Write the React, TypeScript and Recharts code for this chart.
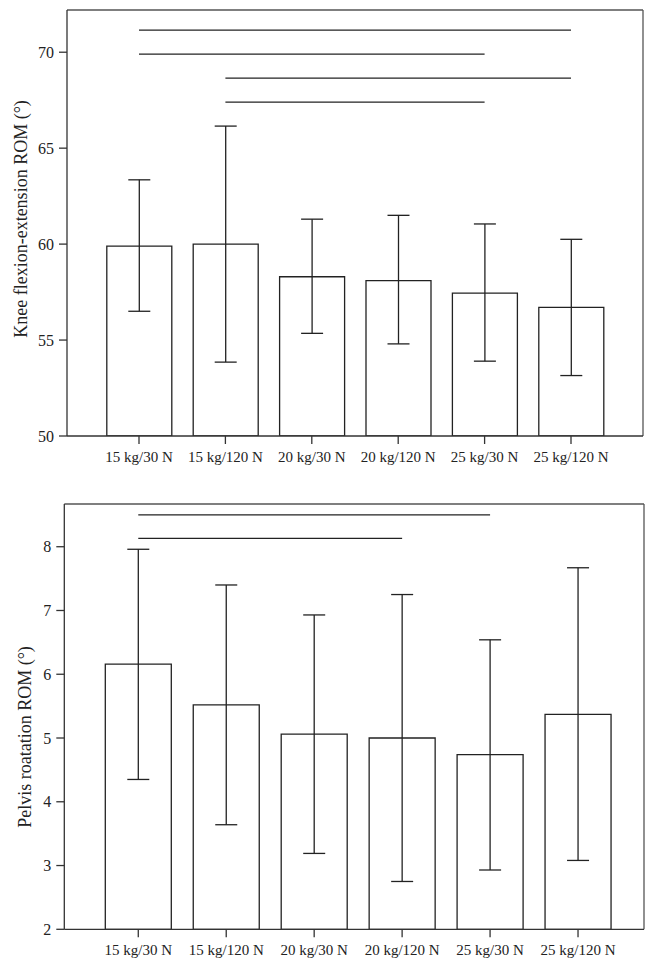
import { BarChart, Bar, XAxis, YAxis, ErrorBar, ReferenceLine, Label, CartesianGrid } from "recharts";

const categories = ["15 kg/30 N", "15 kg/120 N", "20 kg/30 N", "20 kg/120 N", "25 kg/30 N", "25 kg/120 N"];

// knee flexion-extension ROM (deg)
const kneeMean = [59.9, 60.0, 58.3, 58.1, 57.45, 56.7];
const kneeUpper = [63.35, 66.15, 61.3, 61.5, 61.05, 60.25];
const kneeLower = [56.5, 53.85, 55.35, 54.8, 53.9, 53.15];
const kneeTicks = [50, 55, 60, 65, 70];
// significance brackets: [from category, to category, height]
const kneeBrackets: [number, number, number][] = [
  [0, 5, 71.15],
  [0, 4, 69.9],
  [1, 5, 68.65],
  [1, 4, 67.4],
];

// pelvis rotation ROM (deg)
const pelvisMean = [6.16, 5.52, 5.06, 5.0, 4.74, 5.37];
const pelvisUpper = [7.96, 7.4, 6.93, 7.25, 6.54, 7.67];
const pelvisLower = [4.35, 3.64, 3.19, 2.75, 2.93, 3.08];
const pelvisTicks = [2, 3, 4, 5, 6, 7, 8];
const pelvisBrackets: [number, number, number][] = [
  [0, 4, 8.5],
  [0, 3, 8.13],
];

const FONT = "'Liberation Serif', 'Times New Roman', serif";
const INK = "#222";
const LINE = "#333";

function buildRows(mean: number[], upper: number[], lower: number[]) {
  return categories.map((name, i) => ({
    name,
    mean: mean[i],
    err: [mean[i] - lower[i], upper[i] - mean[i]],
  }));
}

function axisTitle(text: string, cx: number, cy: number) {
  return () => (
    <text
      x={cx}
      y={cy}
      transform={`rotate(-90, ${cx}, ${cy})`}
      textAnchor="middle"
      dominantBaseline="central"
      fontFamily={FONT}
      fontSize={18}
      fill={INK}
    >
      {text}
    </text>
  );
}

interface PanelProps {
  top: number;
  height: number;
  margin: { top: number; right: number; bottom: number; left: number };
  rows: { name: string; mean: number; err: number[] }[];
  domain: [number, number];
  ticks: number[];
  brackets: [number, number, number][];
  padding: { left: number; right: number };
  barSize: number;
  title: string;
  titleX: number;
  titleY: number;
}

function Panel(p: PanelProps) {
  return (
    <div style={{ position: "absolute", left: 0, top: p.top }}>
      <BarChart width={655} height={p.height} data={p.rows} margin={p.margin}>
        {/* top and right frame lines */}
        <CartesianGrid
          stroke="#555"
          strokeWidth={1.3}
          horizontalCoordinatesGenerator={({ offset }: any) => [offset.top]}
          verticalCoordinatesGenerator={({ offset }: any) => [offset.left + offset.width]}
        />
        <XAxis
          dataKey="name"
          padding={p.padding}
          height={30}
          stroke={LINE}
          strokeWidth={1.3}
          tickSize={8}
          tickMargin={7}
          tick={{ fontSize: 15, fill: INK, fontFamily: FONT }}
          interval={0}
        />
        <YAxis
          domain={p.domain}
          ticks={p.ticks}
          allowDataOverflow
          width={50}
          stroke={LINE}
          strokeWidth={1.3}
          tickSize={8}
          tickMargin={5}
          tick={{ fontSize: 16, fill: INK, fontFamily: FONT }}
        >
          <Label content={axisTitle(p.title, p.titleX, p.titleY)} />
        </YAxis>
        <Bar dataKey="mean" fill="#fff" stroke={INK} strokeWidth={1.3} barSize={p.barSize} isAnimationActive={false}>
          <ErrorBar dataKey="err" width={11} stroke={INK} strokeWidth={1.3} isAnimationActive={false} />
        </Bar>
        {p.brackets.map(([a, b, y], i) => (
          <ReferenceLine
            key={i}
            segment={[
              { x: categories[a], y },
              { x: categories[b], y },
            ]}
            stroke={INK}
            strokeWidth={1.3}
            ifOverflow="visible"
          />
        ))}
      </BarChart>
    </div>
  );
}

export default function App() {
  return (
    <div style={{ position: "absolute", left: 0, top: 0, width: 655, height: 972, background: "#fff" }}>
      <Panel
        top={0}
        height={480}
        margin={{ top: 10, right: 12, bottom: 14, left: 17 }}
        rows={buildRows(kneeMean, kneeUpper, kneeLower)}
        domain={[50, 72.2]}
        ticks={kneeTicks}
        brackets={kneeBrackets}
        padding={{ left: 28.8, right: 28.8 }}
        barSize={65}
        title="Knee flexion-extension ROM (°)"
        titleX={21}
        titleY={219}
      />
      <Panel
        top={480}
        height={492}
        margin={{ top: 24, right: 11, bottom: 12.7, left: 14.3 }}
        rows={buildRows(pelvisMean, pelvisUpper, pelvisLower)}
        domain={[2, 8.67]}
        ticks={pelvisTicks}
        brackets={pelvisBrackets}
        padding={{ left: 30, right: 22 }}
        barSize={66}
        title="Pelvis roatation ROM (°)"
        titleX={25}
        titleY={257}
      />
    </div>
  );
}
